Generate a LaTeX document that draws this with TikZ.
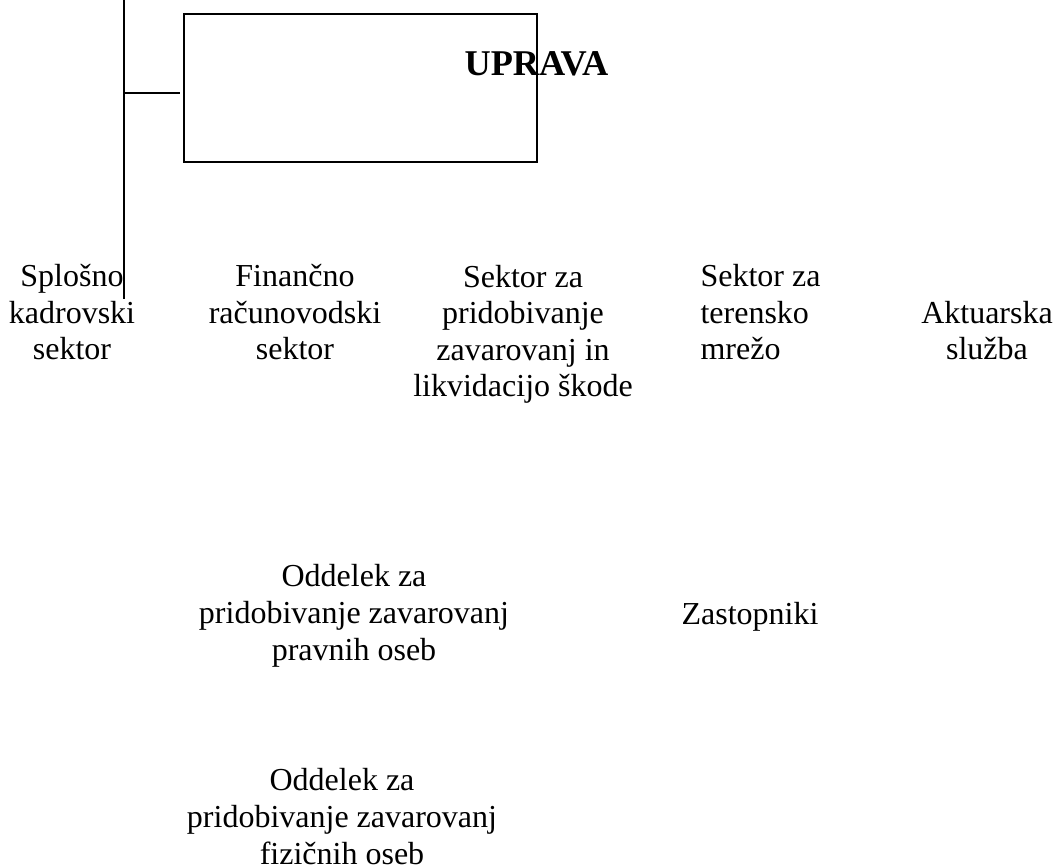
\documentclass[tikz,border=0pt]{standalone}
\usepackage{fontspec}
\setmainfont{Liberation Serif}
\tikzset{
  lbl/.style={font=\fontsize{12}{13.7}\selectfont, align=center, inner sep=0pt, anchor=base},
  unit/.style={draw, line width=0.75pt, inner sep=0pt},
  conn/.style={line width=0.75pt}
}
\begin{document}
\begin{tikzpicture}[x=0.375pt, y=-0.375pt]
	\useasboundingbox (0,0) rectangle (1062,868);
	% uprava
	\node[unit, minimum width=132.4pt, minimum height=55.5pt] (upr) at (360.5,88.3) {};
	\node[font=\fontsize{13.6}{16}\selectfont\bfseries, inner sep=0pt, anchor=base] (uprtxt) at (536.5,76) {UPRAVA};
	\coordinate (trunktop) at (123.7,0);
	\coordinate (trunkbot) at (123.7,299);
	\coordinate (branch) at (upr.west |- 0,93);
	\draw[conn] (trunktop) -- (trunkbot);
	\draw[conn, shorten >=1.1pt] (trunktop |- branch) -- (branch);
	% sektorji (base = zadnja vrstica)
	\node[lbl] (splosno) at (72,360) {Splošno\\kadrovski\\sektor};
	\node[lbl] (financno) at (295,360) {Finančno\\računovodski\\sektor};
	\node[lbl] (pridob) at (523,397) {Sektor za\\pridobivanje\\zavarovanj in\\likvidacijo škode};
	\node[lbl, align=left, anchor=base west] (teren) at (700,360) {Sektor za\\terensko\\mrežo};
	\node[lbl] (aktuar) at (987,360) {Aktuarska\\služba};
	% oddelki
	\node[lbl] (oddpravne) at (354,660) {Oddelek za\\pridobivanje zavarovanj\\pravnih oseb};
	\node[lbl] (zastop) at (750,625) {Zastopniki};
	\node[lbl] (oddfizicne) at (342,864) {Oddelek za\\pridobivanje zavarovanj\\fizičnih oseb};
\end{tikzpicture}
\end{document}
